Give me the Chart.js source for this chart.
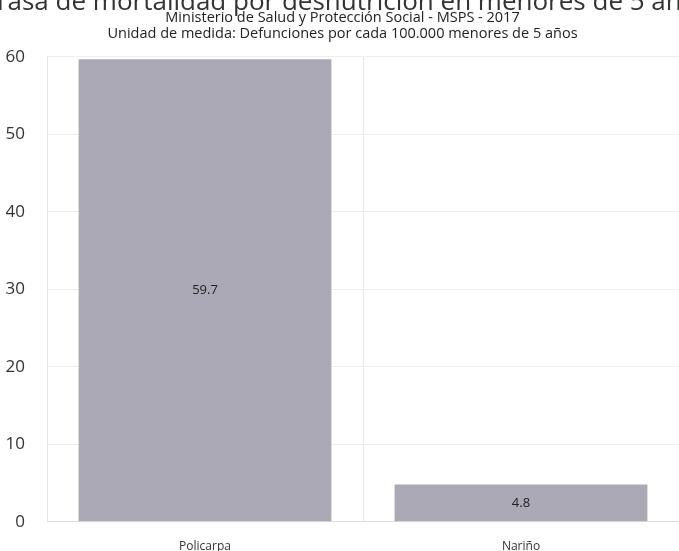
<!DOCTYPE html>
<html>
<head>
<meta charset="utf-8">
<script src="https://cdn.jsdelivr.net/npm/chart.js@4"></script>
<style>
    body { margin: 0; background: #fff; }
    #wrap { width: 679px; height: 551px; overflow: hidden; position: relative; }
    #chart { display: block; margin-top: -16px; }
</style>
</head>
<body>
<div id="wrap"><canvas id="chart" width="679" height="570"></canvas></div>
<script>
// data
let categories = [ 'Policarpa', 'Nariño' ];
let values     = [ 59.7, 4.8 ];
let yTicks     = [ 0, 10, 20, 30, 40, 50, 60 ];

let titleText    = 'Tasa de mortalidad por desnutrición en menores de 5 años';
let subtitleText = [
    'Ministerio de Salud y Protección Social - MSPS - 2017',
    'Unidad de medida: Defunciones por cada 100.000 menores de 5 años'
];

let barColor  = 'rgb(170,169,181)';
let fontName  = '"Open Sans", "Noto Sans", sans-serif';

// the big title runs past both edges of the picture, so it is drawn by hand
// (the built-in title squeezes its text to the canvas width)
let bigTitle = {
    id : 'bigTitle',
    afterDraw : ( chart ) => {
        let ctx = chart.ctx;
        ctx.save();
        ctx.font         = '26px ' + fontName;
        ctx.fillStyle    = '#333';
        ctx.textAlign    = 'center';
        ctx.textBaseline = 'alphabetic';
        ctx.fillText( titleText, chart.width / 2 + 12, 26 );
        ctx.restore();
    }
};

// value written in the middle of each bar
let barLabels = {
    id : 'barLabels',
    afterDatasetsDraw : ( chart ) => {
        let ctx  = chart.ctx;
        let meta = chart.getDatasetMeta( 0 );
        ctx.save();
        ctx.font         = '13px ' + fontName;
        ctx.fillStyle    = '#222';
        ctx.textAlign    = 'center';
        ctx.textBaseline = 'middle';
        meta.data.forEach( ( bar, i ) => {
            let p = bar.getProps( [ 'x', 'y', 'base' ], true );
            ctx.fillText( String( values[ i ] ), p.x, ( p.y + p.base ) / 2 );
        } );
        ctx.restore();
    }
};

let ctx = document.getElementById( 'chart' ).getContext( '2d' );
let chart = new Chart( ctx, {
    type : 'bar',
    data : {
        labels : categories,
        datasets : [ {
            data : values,
            backgroundColor : barColor,
            borderWidth : 0,
            barPercentage : 0.8,
            categoryPercentage : 1.0
        } ]
    },
    options : {
        responsive : false,
        animation : false,
        layout : { padding : { left : 6, right : 0, top : 0, bottom : -24 } },
        plugins : {
            legend : { display : false },
            tooltip : { enabled : false },
            title : { display : false },
            subtitle : {
                display : true,
                text : subtitleText,
                color : '#222',
                font : { family : fontName, size : 14.5, weight : 'normal', lineHeight : 1.1 },
                padding : { top : 26, bottom : 15 }
            }
        },
        scales : {
            x : {
                grid : { offset : true, color : '#e6e6e6', drawTicks : false },
                border : { color : '#dddddd' },
                ticks : { color : '#333', font : { family : fontName, size : 12 }, padding : 18 }
            },
            y : {
                min : 0,
                max : 60,
                afterBuildTicks : ( axis ) => { axis.ticks = yTicks.map( v => ( { value : v } ) ); },
                afterFit : ( axis ) => { axis.width = 41; },
                grid : { color : '#eeeeee', drawTicks : false },
                border : { color : '#e6e6e6' },
                ticks : { color : '#333', font : { family : fontName, size : 17 }, padding : 22 }
            }
        }
    },
    plugins : [ barLabels, bigTitle ]
} );
</script>
</body>
</html>
